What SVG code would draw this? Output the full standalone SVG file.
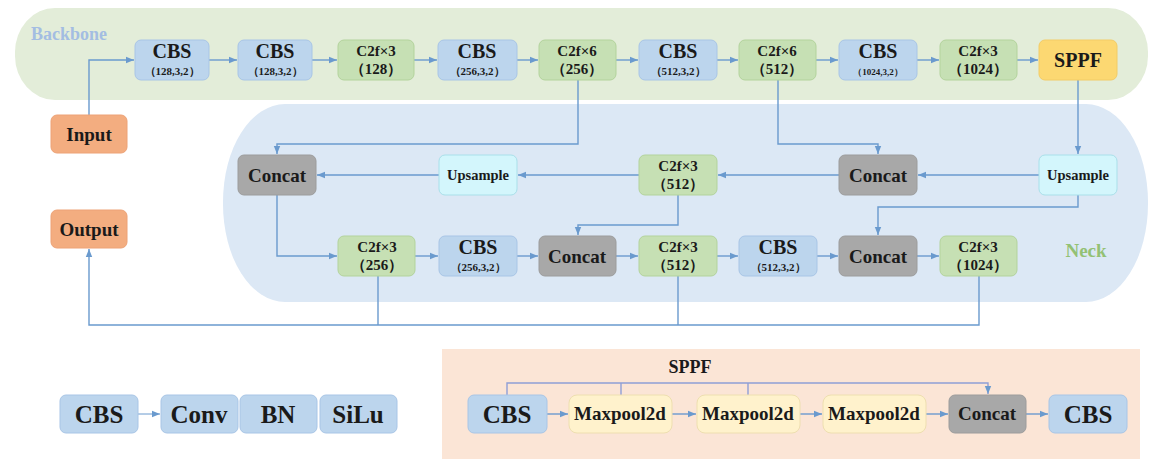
<svg xmlns="http://www.w3.org/2000/svg" width="1150" height="461" viewBox="0 0 1150 461" font-family="Liberation Serif, Times New Roman, DejaVu Serif, serif" font-weight="bold">
<defs>
<marker id="ah" viewBox="0 0 10 10" refX="10" refY="5" markerWidth="8" markerHeight="8" markerUnits="userSpaceOnUse" orient="auto">
<path d="M0,1 L10,5 L0,9 Z" fill="#6a9ace"/>
</marker>
<style>
text{fill:#1a1a1a;text-anchor:middle}
.cbs{fill:#bcd5ed;stroke:#a8c5e6;stroke-width:1}
.c2f{fill:#c6e0b4;stroke:#b3d39c;stroke-width:1}
.cat{fill:#a8a8a8;stroke:#9c9c9c;stroke-width:1}
.ups{fill:#d3f6fc;stroke:#a9e0ea;stroke-width:1}
.io{fill:#f3ad80;stroke:#eda276;stroke-width:1}
.sppf{fill:#fcd872;stroke:#f3cc66;stroke-width:1}
.mp{fill:#fff2cc;stroke:#eedfb0;stroke-width:1}
.big{font-size:20px}
.sub{font-size:11px}
.c2t{font-size:15px}
.con{fill:none;stroke:#6a9ace;stroke-width:1.4}
.arr{marker-end:url(#ah)}
</style>
</defs>
<rect width="1150" height="461" fill="#ffffff"/>
<!-- regions -->
<rect x="15" y="8" width="1133" height="92" rx="40" ry="44" fill="#e3edd9"/>
<rect x="223" y="104" width="925" height="198" rx="62" ry="98" fill="#dce8f5"/>
<rect x="442" y="349" width="698" height="110" fill="#fbe5d6"/>
<text x="69" y="40" style="font-size:18px;fill:#a3bde2">Backbone</text>
<text x="1086" y="257" style="font-size:19px;fill:#93c174">Neck</text>
<text x="690" y="373" style="font-size:18px">SPPF</text>

<!-- connectors -->
<g id="connectors">
<path class="con arr" d="M89,115 V60 H134"/>
<path class="con arr" d="M209,60 H237"/>
<path class="con arr" d="M312,60 H337"/>
<path class="con arr" d="M414,60 H437"/>
<path class="con arr" d="M517,60 H538"/>
<path class="con arr" d="M616,60 H638"/>
<path class="con arr" d="M717,60 H738"/>
<path class="con arr" d="M816,60 H838"/>
<path class="con arr" d="M917,60 H939"/>
<path class="con arr" d="M1017,60 H1038"/>
<path class="con arr" d="M578,80 V144 H277 V154"/>
<path class="con arr" d="M778,80 V144 H878 V154"/>
<path class="con arr" d="M1078,80 V154"/>
<path class="con arr" d="M1039,175 H918"/>
<path class="con arr" d="M839,175 H718"/>
<path class="con arr" d="M639,175 H518"/>
<path class="con arr" d="M439,175 H317"/>
<path class="con arr" d="M277,195 V256 H337"/>
<path class="con arr" d="M678,195 V225 H578 V235"/>
<path class="con arr" d="M1078,195 V207 H878 V235"/>
<path class="con arr" d="M415,256 H438"/>
<path class="con arr" d="M517,256 H538"/>
<path class="con arr" d="M616,256 H638"/>
<path class="con arr" d="M717,256 H738"/>
<path class="con arr" d="M817,256 H838"/>
<path class="con arr" d="M917,256 H939"/>
<path class="con arr" d="M979,276 V325 H89 V249"/>
<path class="con" d="M378,276 V325"/>
<path class="con" d="M678,276 V325"/>
<path class="con arr" d="M138,414 H160" style="stroke-width:1"/>
<path class="con arr" d="M507,395 V383 H988 V394" style="stroke:#8f9fd6"/>
<path class="con" d="M621,395 V383" style="stroke:#8f9fd6"/>
<path class="con" d="M748,395 V383" style="stroke:#8f9fd6"/>
<path class="con arr" d="M547,414 H568"/>
<path class="con arr" d="M672,414 H696"/>
<path class="con arr" d="M800,414 H822"/>
<path class="con arr" d="M926,414 H948"/>
<path class="con arr" d="M1026,414 H1048"/>
</g>

<!-- backbone row -->
<g id="b1"><rect class="cbs" x="135" y="40" width="74" height="40" rx="6"/><text class="big" x="172" y="58">CBS</text><text class="sub" x="172" y="75">（128,3,2）</text></g>
<g id="b2"><rect class="cbs" x="238" y="40" width="74" height="40" rx="6"/><text class="big" x="275" y="58">CBS</text><text class="sub" x="275" y="75">（128,3,2）</text></g>
<g id="b3"><rect class="c2f" x="338" y="40" width="76" height="40" rx="6"/><text class="c2t" x="376" y="56">C2f×3</text><text class="c2t" x="376" y="74">（128）</text></g>
<g id="b4"><rect class="cbs" x="438" y="40" width="79" height="40" rx="6"/><text class="big" x="477" y="58">CBS</text><text class="sub" x="477" y="75">（256,3,2）</text></g>
<g id="b5"><rect class="c2f" x="539" y="40" width="77" height="40" rx="6"/><text class="c2t" x="577" y="56">C2f×6</text><text class="c2t" x="577" y="74">（256）</text></g>
<g id="b6"><rect class="cbs" x="639" y="40" width="78" height="40" rx="6"/><text class="big" x="678" y="58">CBS</text><text class="sub" x="678" y="75">（512,3,2）</text></g>
<g id="b7"><rect class="c2f" x="739" y="40" width="77" height="40" rx="6"/><text class="c2t" x="777" y="56">C2f×6</text><text class="c2t" x="777" y="74">（512）</text></g>
<g id="b8"><rect class="cbs" x="839" y="40" width="78" height="40" rx="6"/><text class="big" x="878" y="58">CBS</text><text x="878" y="75" style="font-size:9px">（1024,3,2）</text></g>
<g id="b9"><rect class="c2f" x="940" y="40" width="77" height="40" rx="6"/><text class="c2t" x="978" y="56">C2f×3</text><text class="c2t" x="978" y="74">（1024）</text></g>
<g id="b10"><rect class="sppf" x="1039" y="40" width="78" height="40" rx="6"/><text class="big" x="1078" y="67">SPPF</text></g>

<g id="input"><rect class="io" x="51" y="115" width="76" height="38" rx="6"/><text x="89" y="141" style="font-size:19px">Input</text></g>
<g id="output"><rect class="io" x="51" y="210" width="76" height="38" rx="6"/><text x="89" y="236" style="font-size:19px">Output</text></g>

<!-- neck row 2 -->
<g id="n1"><rect class="cat" x="238" y="155" width="78" height="40" rx="6"/><text x="277" y="182" style="font-size:19px">Concat</text></g>
<g id="n2"><rect class="ups" x="439" y="155" width="78" height="40" rx="6"/><text x="478" y="180" style="font-size:14.5px">Upsample</text></g>
<g id="n3"><rect class="c2f" x="639" y="155" width="78" height="40" rx="6"/><text class="c2t" x="678" y="171">C2f×3</text><text class="c2t" x="678" y="189">（512）</text></g>
<g id="n4"><rect class="cat" x="839" y="155" width="78" height="40" rx="6"/><text x="878" y="182" style="font-size:19px">Concat</text></g>
<g id="n5"><rect class="ups" x="1039" y="155" width="78" height="40" rx="6"/><text x="1078" y="180" style="font-size:14.5px">Upsample</text></g>

<!-- neck row 3 -->
<g id="m1"><rect class="c2f" x="338" y="236" width="77" height="40" rx="6"/><text class="c2t" x="377" y="252">C2f×3</text><text class="c2t" x="377" y="270">（256）</text></g>
<g id="m2"><rect class="cbs" x="439" y="236" width="78" height="40" rx="6"/><text class="big" x="478" y="254">CBS</text><text class="sub" x="478" y="271">（256,3,2）</text></g>
<g id="m3"><rect class="cat" x="539" y="236" width="77" height="40" rx="6"/><text x="577" y="263" style="font-size:19px">Concat</text></g>
<g id="m4"><rect class="c2f" x="639" y="236" width="78" height="40" rx="6"/><text class="c2t" x="678" y="252">C2f×3</text><text class="c2t" x="678" y="270">（512）</text></g>
<g id="m5"><rect class="cbs" x="739" y="236" width="78" height="40" rx="6"/><text class="big" x="778" y="254">CBS</text><text class="sub" x="778" y="271">（512,3,2）</text></g>
<g id="m6"><rect class="cat" x="839" y="236" width="78" height="40" rx="6"/><text x="878" y="263" style="font-size:19px">Concat</text></g>
<g id="m7"><rect class="c2f" x="940" y="236" width="77" height="40" rx="6"/><text class="c2t" x="978" y="252">C2f×3</text><text class="c2t" x="978" y="270">（1024）</text></g>

<!-- CBS legend -->
<g id="l1"><rect class="cbs" x="60" y="395" width="78" height="38" rx="6"/><text x="99" y="423" style="font-size:25px">CBS</text></g>
<g id="l2"><rect class="cbs" x="161" y="395" width="77" height="38" rx="6"/><text x="199" y="423" style="font-size:25px">Conv</text></g>
<g id="l3"><rect class="cbs" x="240" y="395" width="77" height="38" rx="6"/><text x="278" y="423" style="font-size:25px">BN</text></g>
<g id="l4"><rect class="cbs" x="320" y="395" width="77" height="38" rx="6"/><text x="358" y="423" style="font-size:25px">SiLu</text></g>

<!-- SPPF detail -->
<g id="s1"><rect class="cbs" x="468" y="395" width="79" height="38" rx="6"/><text x="507" y="423" style="font-size:25px">CBS</text></g>
<g id="s2"><rect class="mp" x="569" y="395" width="103" height="38" rx="8"/><text x="620" y="420" style="font-size:19px">Maxpool2d</text></g>
<g id="s3"><rect class="mp" x="697" y="395" width="103" height="38" rx="8"/><text x="748" y="420" style="font-size:19px">Maxpool2d</text></g>
<g id="s4"><rect class="mp" x="823" y="395" width="103" height="38" rx="8"/><text x="874" y="420" style="font-size:19px">Maxpool2d</text></g>
<g id="s5"><rect class="cat" x="949" y="395" width="77" height="38" rx="6"/><text x="987" y="420" style="font-size:19px">Concat</text></g>
<g id="s6"><rect class="cbs" x="1049" y="395" width="78" height="38" rx="6"/><text x="1088" y="423" style="font-size:25px">CBS</text></g>
</svg>
